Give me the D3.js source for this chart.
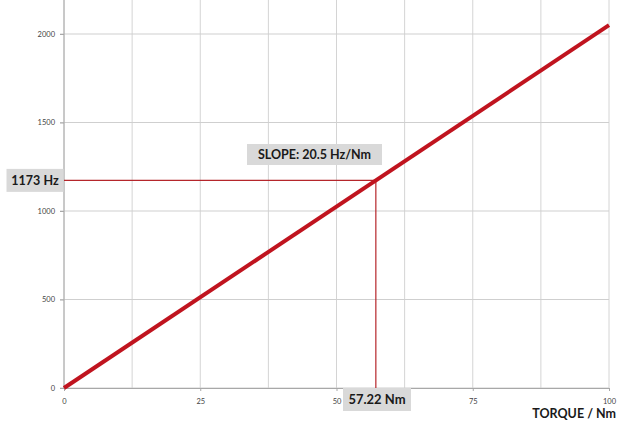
<!DOCTYPE html>
<html><head><meta charset="utf-8">
<script src="https://cdn.jsdelivr.net/npm/d3@7"></script>
<style>body{margin:0;background:#fff}svg{display:block}</style>
</head><body>
<script>
const torque = [0, 100];
const freq = [0, 2050];
const xTicks = [0, 25, 50, 75, 100];
const yTicks = [0, 500, 1000, 1500, 2000];
const xGrid = [0, 12.5, 25, 37.5, 50, 62.5, 75, 87.5, 100];
const markTorque = 57.22;
const markFreq = 1173;
const slopeText = "SLOPE: 20.5 Hz/Nm";
const xTitle = "TORQUE / Nm";

const W = 620, H = 428;
const svg = d3.select("body").append("svg").attr("width", W).attr("height", H);
const x = d3.scaleLinear().domain([0, 100]).range([64, 609]);
const y = d3.scaleLinear().domain([0, 2000]).range([388, 34]);
const yTop = 0;
const font = "Lato, 'Open Sans', sans-serif";

// grid
svg.append("g").selectAll("line").data(xGrid).join("line")
  .attr("x1", d => x(d)).attr("x2", d => x(d)).attr("y1", yTop).attr("y2", y(0))
  .attr("stroke", "#d4d4d4").attr("stroke-width", 1);
svg.append("g").selectAll("line").data(yTicks).join("line")
  .attr("x1", x(0) - 4).attr("x2", x(100)).attr("y1", d => y(d)).attr("y2", d => y(d))
  .attr("stroke", "#cfcfcf").attr("stroke-width", 1);
// axes
const ax = svg.append("g").attr("transform", `translate(0,${y(0)})`)
  .call(d3.axisBottom(x).tickValues(xTicks).tickFormat(d3.format("d")).tickSize(3).tickPadding(8));
const ay = svg.append("g").attr("transform", `translate(${x(0)},0)`)
  .call(d3.axisLeft(y).tickValues(yTicks).tickFormat(d3.format("d")).tickSize(4).tickPadding(5));
[ax, ay].forEach(g => {
  g.select(".domain").attr("stroke", "#a8a8a8");
  g.selectAll(".tick line").attr("stroke", "#a8a8a8");
  g.selectAll("text").attr("font-family", font).attr("font-size", 7.5).attr("fill", "#444");
});
ay.select(".domain").attr("d", `M0,${yTop}V${y(0)}`);

// marker lines
svg.append("path")
  .attr("d", `M${x(0)},${y(markFreq)}H${x(markTorque)}V${y(0)}`)
  .attr("fill", "none").attr("stroke", "#b5262b").attr("stroke-width", 1.2);

// main line
const line = d3.line().x(d => x(d[0])).y(d => y(d[1]));
svg.append("path").datum(torque.map((t, i) => [t, freq[i]]))
  .attr("d", line).attr("fill", "none").attr("stroke", "#c0141f").attr("stroke-width", 4);

// label boxes
function box(cx, cy, w, h, text, size) {
  svg.append("rect").attr("x", cx - w / 2).attr("y", cy - h / 2).attr("width", w).attr("height", h)
    .attr("fill", "#d9d9d9");
  svg.append("text").attr("x", cx).attr("y", cy).attr("dy", "0.36em").attr("text-anchor", "middle")
    .attr("font-family", font).attr("font-weight", "bold").attr("font-size", size)
    .attr("fill", "#1a1a1a").text(text);
}
box(35, y(markFreq), 57, 23, `${markFreq} Hz`, 12.5);
box(377, 399.5, 68, 23, `${markTorque} Nm`, 13);
box(314.5, 154.5, 135, 21, slopeText, 12.5);

svg.append("text").attr("x", 616).attr("y", 418).attr("text-anchor", "end")
  .attr("font-family", font).attr("font-weight", "bold").attr("font-size", 12.5)
  .attr("fill", "#1a1a1a").text(xTitle);
</script>
</body></html>
